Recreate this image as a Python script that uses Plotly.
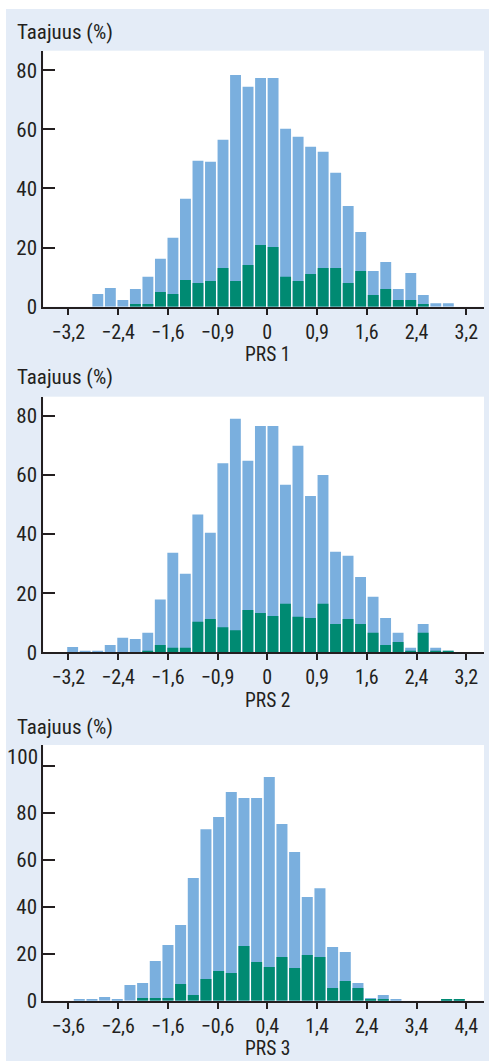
import numpy as np
import plotly.graph_objects as go

# ---------------- data ----------------
# PRS 1: histogram bins (start centre, width) and heights (%)
prs1_start, prs1_width = -2.725, 0.2013
prs1_total = [4.3, 6.3, 2.3, 6.0, 10.1, 16.2, 23.3, 36.5, 49.4, 49.0, 56.5, 78.4, 74.4, 77.4, 77.4,
              60.2, 57.5, 54.1, 52.4, 45.3, 34.1, 25.3, 12.1, 15.1, 6.0, 11.4, 4.0, 1.2, 1.2]
prs1_sub = [0, 0, 0, 0.9, 0.9, 5.0, 4.3, 9.0, 8.0, 8.7, 13.1, 8.7, 14.1, 20.9, 20.2,
            10.1, 8.7, 11.1, 13.1, 13.1, 8.0, 12.1, 4.0, 6.0, 2.3, 2.3, 0.9, 0, 0]

# PRS 2
prs2_start, prs2_width = -3.13, 0.2013
prs2_total = [1.8, 0.5, 0.5, 2.5, 4.9, 4.5, 6.6, 17.9, 33.7, 26.6, 46.6, 40.5, 64.0, 79.0, 64.8, 76.6,
              76.6, 56.7, 69.9, 52.9, 60.0, 34.0, 32.7, 25.5, 18.8, 11.6, 6.6, 1.5, 9.6, 1.5, 0.4]
prs2_sub = [0, 0, 0, 0, 0, 0, 0.5, 2.5, 1.5, 1.5, 10.3, 11.3, 8.5, 7.5, 14.3, 13.3,
            12.3, 16.4, 12.0, 11.6, 16.4, 9.6, 11.3, 9.6, 6.6, 2.5, 3.5, 0.5, 6.6, 0.5, 0.4]

# PRS 3
prs3_start, prs3_width = -3.379, 0.2546
prs3_total = [0.7, 0.7, 1.6, 0.7, 6.7, 7.5, 16.9, 23.7, 32.2, 52.2, 73.0, 78.2, 88.8, 86.2, 86.2, 95.2,
              75.2, 63.3, 44.1, 47.9, 22.8, 20.7, 7.5, 1.1, 2.4, 0.7, 0, 0, 0, 0.7, 0.7]
prs3_sub = [0, 0, 0, 0, 0, 1.1, 1.1, 1.1, 7.1, 2.4, 9.2, 12.6, 11.8, 23.3, 16.5, 14.3,
            18.6, 13.9, 19.4, 18.6, 5.4, 8.4, 5.4, 0.7, 0.7, 0, 0, 0, 0, 0.7, 0.7]

# tick labels
ticks12_vals = [-3.2, -2.4, -1.6, -0.8, 0, 0.8, 1.6, 2.4, 3.2]
ticks12_text = ["−3,2", "−2,4", "−1,6", "−0,9", "0", "0,9", "1,6", "2,4", "3,2"]
ticks3_vals = [-3.6, -2.6, -1.6, -0.6, 0.4, 1.4, 2.4, 3.4, 4.4]
ticks3_text = ["−3,6", "−2,6", "−1,6", "−0,6", "0,4", "1,4", "2,4", "3,4", "4,4"]
yticks12 = [0, 20, 40, 60, 80]
yticks12_text = ["0", "20", "40", "60", "80"]
yticks3 = [0, 20, 40, 60, 80, 100]
yticks3_text = ["0", "20", "40", "60", "80", ""]   # "100" is set slightly above its tick
titles_x = ["PRS 1", "PRS 2", "PRS 3"]
title_y = "Taajuus (%)"

# ---------------- style ----------------
W, H = 489, 1061
BLUE = "#7AAFDE"
GREEN = "#008A72"
BG = "#E4ECF7"
INK = "#231F20"
FONT = "Liberation Sans Narrow, Roboto Condensed, DejaVu Sans Condensed, Arial, sans-serif"
FS = 21
FS_XT = 20
FS_X = 19.5

panels = [
    dict(start=prs1_start, width=prs1_width, total=prs1_total, sub=prs1_sub,
         tv=ticks12_vals, tt=ticks12_text, yt=yticks12, ytt=yticks12_text, xr=[-3.602, 3.485], yr=[0, 86.6],
         top=50.7, bottom=306.7, title_px=32, xt_px=354.5),
    dict(start=prs2_start, width=prs2_width, total=prs2_total, sub=prs2_sub,
         tv=ticks12_vals, tt=ticks12_text, yt=yticks12, ytt=yticks12_text, xr=[-3.602, 3.485], yr=[0, 86.5],
         top=396.7, bottom=652.3, title_px=377, xt_px=700),
    dict(start=prs3_start, width=prs3_width, total=prs3_total, sub=prs3_sub,
         tv=ticks3_vals, tt=ticks3_text, yt=yticks3, ytt=yticks3_text, xr=[-4.1025, 4.756], yr=[0, 108.8],
         top=745, bottom=1000.7, title_px=727, xt_px=1048),
]

fig = go.Figure()
x_dom = [43.3 / W, 484 / W]
annotations = []
for i, p in enumerate(panels):
    n = len(p["total"])
    centers = np.round(p["start"] + p["width"] * np.arange(n), 4)
    xa = "x" if i == 0 else f"x{i+1}"
    ya = "y" if i == 0 else f"y{i+1}"
    bw = p["width"] * 0.87
    fig.add_trace(go.Bar(x=centers, y=p["total"], width=bw, marker=dict(color=BLUE, line=dict(width=0)),
                         xaxis=xa, yaxis=ya, showlegend=False, hoverinfo="skip"))
    fig.add_trace(go.Bar(x=centers, y=p["sub"], width=bw, marker=dict(color=GREEN, line=dict(width=0)),
                         xaxis=xa, yaxis=ya, showlegend=False, hoverinfo="skip"))
    xkey = "xaxis" if i == 0 else f"xaxis{i+1}"
    ykey = "yaxis" if i == 0 else f"yaxis{i+1}"
    y_dom = [1 - p["bottom"] / H, 1 - p["top"] / H]
    fig.update_layout(**{
        xkey: dict(domain=x_dom, anchor=ya, range=p["xr"], tickmode="array", tickvals=p["tv"],
                   ticktext=p["tt"], ticks="outside", ticklen=6, tickwidth=1.5, tickcolor=INK,
                   showline=True, linecolor=INK, linewidth=2, showgrid=False, zeroline=False,
                   tickfont=dict(family=FONT, size=FS_XT, color=INK), automargin=False, fixedrange=True),
        ykey: dict(domain=y_dom, anchor=xa, range=p["yr"], tickmode="array", tickvals=p["yt"],
                   ticktext=p["ytt"], ticks="inside", ticklen=12, tickwidth=1.5, tickcolor=INK,
                   showline=True, linecolor=INK, linewidth=2, showgrid=False, zeroline=False,
                   tickfont=dict(family=FONT, size=FS, color=INK), automargin=False, fixedrange=True),
    })
    annotations.append(dict(text=title_y, xref="paper", yref="paper", x=15 / W, y=1 - p["title_px"] / H,
                            xanchor="left", yanchor="middle", showarrow=False,
                            font=dict(family=FONT, size=FS, color=INK)))
    annotations.append(dict(text=titles_x[i], xref="paper", yref="paper", x=267 / W, y=1 - p["xt_px"] / H,
                            xanchor="center", yanchor="middle", showarrow=False, borderpad=0,
                            font=dict(family=FONT, size=FS_X, color=INK)))

# the "100" label of PRS 3 sits a little above its tick in the original
annotations.append(dict(text="100", xref="paper", yref="y3", x=40 / W, y=yticks3[-1], yshift=9,
                        xanchor="right", yanchor="middle", showarrow=False,
                        font=dict(family=FONT, size=FS, color=INK)))

shapes = [
    dict(type="rect", xref="paper", yref="paper", x0=0, x1=6 / W, y0=0, y1=1,
         fillcolor="white", line=dict(width=0), layer="below"),
    dict(type="rect", xref="paper", yref="paper", x0=0, x1=1, y0=1 - 9 / H, y1=1,
         fillcolor="white", line=dict(width=0), layer="below"),
]

fig.update_layout(
    width=W, height=H, margin=dict(l=0, r=0, t=0, b=0),
    paper_bgcolor=BG, plot_bgcolor="white", barmode="overlay",
    annotations=annotations, shapes=shapes, showlegend=False,
    font=dict(family=FONT, color=INK),
)

fig.write_html("out.html", config={"displayModeBar": False},
               post_script="document.body.style.margin='0';document.body.style.overflow='hidden';")
